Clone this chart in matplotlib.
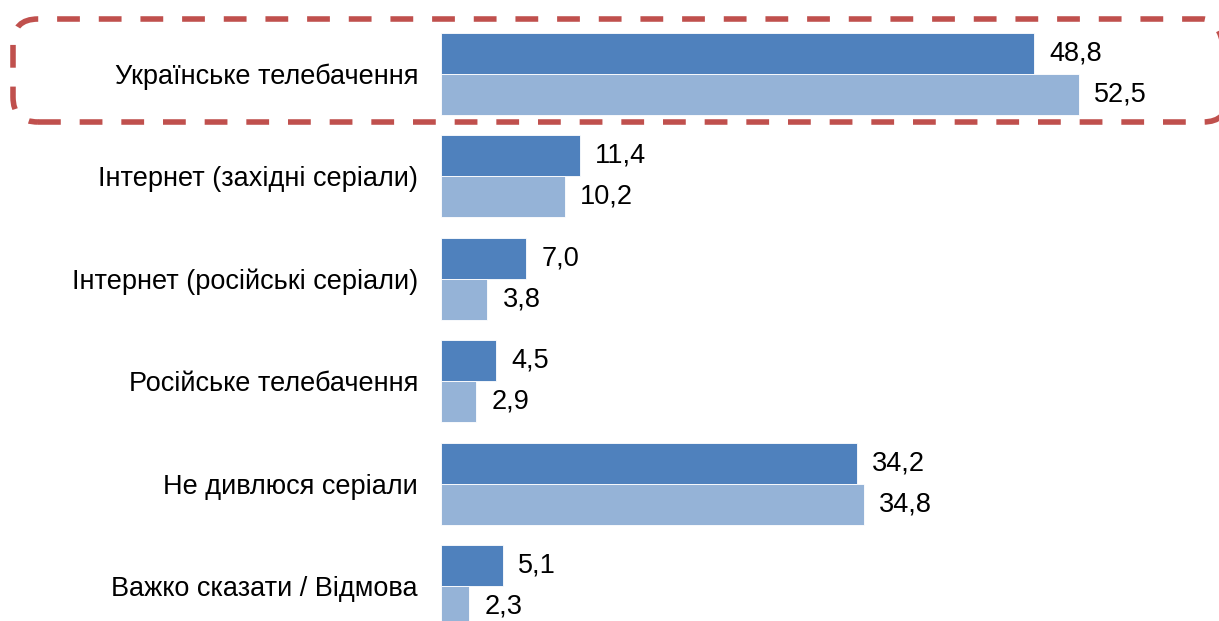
import numpy as np
import matplotlib.pyplot as plt
from matplotlib.patches import FancyBboxPatch

plt.rcParams['font.family'] = ['Liberation Sans', 'DejaVu Sans']

categories = ["Українське телебачення", "Інтернет (західні серіали)",
              "Інтернет (російські серіали)", "Російське телебачення",
              "Не дивлюся серіали", "Важко сказати / Відмова"]
series_a = [48.8, 11.4, 7.0, 4.5, 34.2, 5.1]
series_b = [52.5, 10.2, 3.8, 2.9, 34.8, 2.3]
colors = ["#4F81BD", "#95B3D7"]

fig = plt.figure(figsize=(12.19, 6.21), dpi=100)
ax = fig.add_axes([441 / 1219, 0, 778 / 1219, 1])

y = np.arange(len(categories))
h = 0.4
for vals, off, c in zip([series_a, series_b], [-h / 2, h / 2], colors):
    bars = ax.barh(y + off, vals, height=h, color=c, edgecolor="white", linewidth=0.6)
    for b, v in zip(bars, vals):
        ax.annotate(f"{v:.1f}".replace(".", ","),
                    (b.get_width(), b.get_y() + b.get_height() / 2),
                    xytext=(11, 0), textcoords="offset points",
                    ha="left", va="center", fontsize=19.5)

ax.set_xlim(0, 64.03)
ax.set_ylim(5.342, -0.7227)
ax.set_yticks(y)
ax.set_yticklabels(categories, fontsize=19.5)
ax.tick_params(axis="y", length=0, pad=16.5)
ax.set_xticks([])
for s in ax.spines.values():
    s.set_visible(False)

# dashed highlight around first category
box = FancyBboxPatch((0.13, 4.99), 12.15, 1.03,
                     boxstyle="round,pad=0,rounding_size=0.25",
                     transform=fig.dpi_scale_trans, fill=False,
                     edgecolor="#C0504D", linewidth=4,
                     linestyle=(0, (4.1, 3.4)), clip_on=False)
fig.add_artist(box)

fig.savefig("out.png", dpi=100)
